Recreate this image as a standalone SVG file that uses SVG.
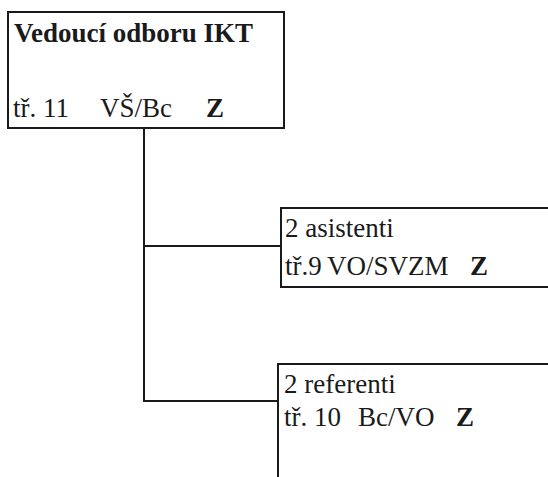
<svg xmlns="http://www.w3.org/2000/svg" width="548" height="477" viewBox="0 0 548 477">
<style>
.box{fill:#fff;stroke:#1a1a1a;stroke-width:2}
.ln{fill:none;stroke:#1a1a1a;stroke-width:2}
text{font-family:"Liberation Serif","Times New Roman",serif;font-size:27px;fill:#1a1a1a}
.b{font-weight:bold}
</style>
<rect width="548" height="477" fill="#fff"/>
<g id="connectors">
<path class="ln" d="M144 128 V401 H278"/>
<path class="ln" d="M143 246 H281"/>
</g>
<g id="node-vedouci">
<rect class="box" x="8" y="12" width="276" height="116"/>
<text class="b" x="14" y="42" font-size="27.5">Vedoucí odboru IKT</text>
<text x="13" y="117">tř. 11</text>
<text x="100" y="117">VŠ/Bc</text>
<text class="b" x="206" y="117">Z</text>
</g>
<g id="node-asistenti">
<path class="box" d="M549 208 H281 V287 H549"/>
<text x="285" y="237">2 asistenti</text>
<text x="285" y="275">tř.9</text>
<text x="327" y="275" font-size="28.5">VO/SVZM</text>
<text class="b" x="470" y="275">Z</text>
</g>
<g id="node-referenti">
<path class="box" d="M549 364 H278 V478"/>
<text x="284" y="393">2 referenti</text>
<text x="284" y="426">tř. 10</text>
<text x="358" y="426">Bc/VO</text>
<text class="b" x="456" y="426">Z</text>
</g>
</svg>
